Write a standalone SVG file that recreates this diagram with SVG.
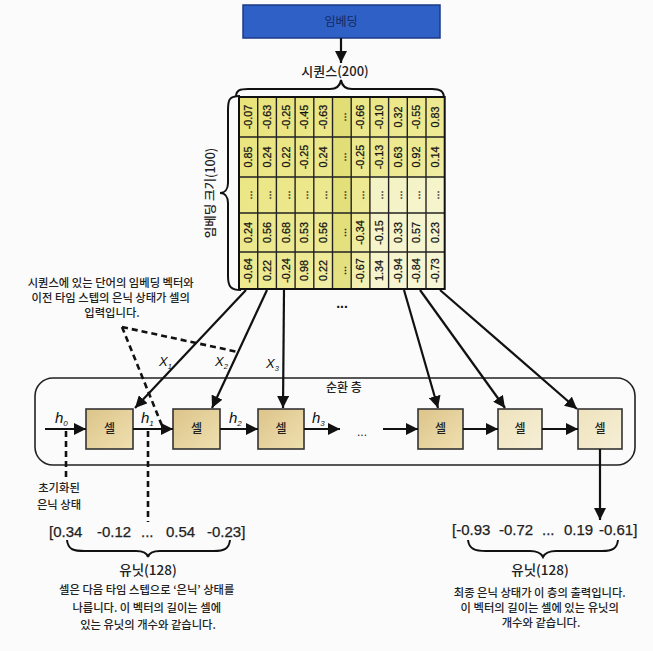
<svg xmlns="http://www.w3.org/2000/svg" width="653" height="651" viewBox="0 0 653 651">
<style>
.kr{font-family:"Noto Sans CJK KR","Noto Sans",sans-serif;fill:#222;font-weight:500}
.num{font-family:"Liberation Sans",Arial,sans-serif;fill:#111;font-size:10.8px;stroke:#111;stroke-width:0.25}
.big{font-family:"Liberation Sans",Arial,sans-serif;fill:#222;font-size:15px;stroke:#222;stroke-width:0.25}
.ln{stroke:#111;stroke-width:2.2;fill:none}
.dash{stroke:#111;stroke-width:2.6;fill:none;stroke-dasharray:6 4}
.cell rect{stroke:#333;stroke-width:1.6}
.brace{stroke:#111;stroke-width:2;fill:none}
</style>
<defs>
<marker id="ah" viewBox="0 0 10 10" refX="10" refY="5" markerWidth="12" markerHeight="12" markerUnits="userSpaceOnUse" orient="auto"><path d="M0,0 L10,5 L0,10 z" fill="#111"/></marker>
<linearGradient id="tan" x1="0" y1="0" x2="1" y2="1"><stop offset="0" stop-color="#dcc48a"/><stop offset="1" stop-color="#efe0b0"/></linearGradient>
<linearGradient id="tanl" x1="0" y1="0" x2="1" y2="1"><stop offset="0" stop-color="#efe3bd"/><stop offset="1" stop-color="#f6efd6"/></linearGradient>
<linearGradient id="yel" x1="0" y1="0" x2="1" y2="1"><stop offset="0" stop-color="#e9e37a"/><stop offset="0.6" stop-color="#eeea95"/><stop offset="1" stop-color="#f6f5d2"/></linearGradient>
</defs>
<rect width="653" height="651" fill="#fbfbfb"/>

<g id="embedding">
<rect x="243" y="5" width="197" height="33" fill="#2f60c6" stroke="#1c3a86" stroke-width="1.5"/>
<text x="341" y="26" text-anchor="middle" font-size="12" font-family="Noto Sans CJK KR, sans-serif" fill="#13285e">임베딩</text>
</g>

<g id="sequence-label">
<text class="kr" x="335" y="76" text-anchor="middle" font-size="13">시퀀스(200)</text>
<path class="brace" d="M236,97 C236,90 240,89 248,89 L330,89 C336,89 340,86 341,80 C342,86 346,89 352,89 L432,89 C440,89 444,91 444,98"/>
<path class="brace" d="M240,96 C229,96 228,100 228,110 L228,183 C228,189 225,193 220,193 C225,193 228,197 228,203 L228,276 C228,287 231,290 241,290"/>
<text class="kr" transform="translate(209,193) rotate(-90)" text-anchor="middle" dominant-baseline="central" font-size="12.5">임베딩 크기(100)</text>
</g>

<g id="grid">
<rect x="239" y="97" width="205.7" height="192" fill="url(#yel)"/>
<rect x="332.5" y="97" width="18.7" height="192" fill="#dcd86a" opacity="0.6"/>
<rect x="369.9" y="177" width="74.8" height="112" fill="#f7f6da" opacity="0.7"/>
<path d="M257.7,97V289M276.4,97V289M295.1,97V289M313.8,97V289M332.5,97V289M351.2,97V289M369.9,97V289M388.6,97V289M407.3,97V289M426,97V289M239,137H444.7M239,177H444.7M239,213H444.7M239,252H444.7" stroke="#222" stroke-width="1.4" fill="none"/>
<rect x="239" y="97" width="205.7" height="192" fill="none" stroke="#111" stroke-width="2"/>
<g class="num" text-anchor="middle">
<text transform="translate(248.35,117) rotate(-90)" dy="3.8">-0.07</text>
<text transform="translate(267.05,117) rotate(-90)" dy="3.8">-0.63</text>
<text transform="translate(285.75,117) rotate(-90)" dy="3.8">-0.25</text>
<text transform="translate(304.45,117) rotate(-90)" dy="3.8">-0.45</text>
<text transform="translate(323.15,117) rotate(-90)" dy="3.8">-0.63</text>
<text transform="translate(341.85,117) rotate(-90)" dy="3.8">...</text>
<text transform="translate(360.55,117) rotate(-90)" dy="3.8">-0.66</text>
<text transform="translate(379.25,117) rotate(-90)" dy="3.8">-0.10</text>
<text transform="translate(397.95,117) rotate(-90)" dy="3.8">0.32</text>
<text transform="translate(416.65,117) rotate(-90)" dy="3.8">-0.55</text>
<text transform="translate(435.35,117) rotate(-90)" dy="3.8">0.83</text>
<text transform="translate(248.35,157) rotate(-90)" dy="3.8">0.85</text>
<text transform="translate(267.05,157) rotate(-90)" dy="3.8">0.24</text>
<text transform="translate(285.75,157) rotate(-90)" dy="3.8">0.22</text>
<text transform="translate(304.45,157) rotate(-90)" dy="3.8">-0.25</text>
<text transform="translate(323.15,157) rotate(-90)" dy="3.8">0.24</text>
<text transform="translate(341.85,157) rotate(-90)" dy="3.8">...</text>
<text transform="translate(360.55,157) rotate(-90)" dy="3.8">-0.25</text>
<text transform="translate(379.25,157) rotate(-90)" dy="3.8">-0.13</text>
<text transform="translate(397.95,157) rotate(-90)" dy="3.8">0.63</text>
<text transform="translate(416.65,157) rotate(-90)" dy="3.8">0.92</text>
<text transform="translate(435.35,157) rotate(-90)" dy="3.8">0.14</text>
<text transform="translate(248.35,195) rotate(-90)" dy="3.8">...</text>
<text transform="translate(267.05,195) rotate(-90)" dy="3.8">...</text>
<text transform="translate(285.75,195) rotate(-90)" dy="3.8">...</text>
<text transform="translate(304.45,195) rotate(-90)" dy="3.8">...</text>
<text transform="translate(323.15,195) rotate(-90)" dy="3.8">...</text>
<text transform="translate(341.85,195) rotate(-90)" dy="3.8">...</text>
<text transform="translate(360.55,195) rotate(-90)" dy="3.8">...</text>
<text transform="translate(379.25,195) rotate(-90)" dy="3.8">...</text>
<text transform="translate(397.95,195) rotate(-90)" dy="3.8">...</text>
<text transform="translate(416.65,195) rotate(-90)" dy="3.8">...</text>
<text transform="translate(435.35,195) rotate(-90)" dy="3.8">...</text>
<text transform="translate(248.35,232.5) rotate(-90)" dy="3.8">0.24</text>
<text transform="translate(267.05,232.5) rotate(-90)" dy="3.8">0.56</text>
<text transform="translate(285.75,232.5) rotate(-90)" dy="3.8">0.68</text>
<text transform="translate(304.45,232.5) rotate(-90)" dy="3.8">0.53</text>
<text transform="translate(323.15,232.5) rotate(-90)" dy="3.8">0.56</text>
<text transform="translate(341.85,232.5) rotate(-90)" dy="3.8">...</text>
<text transform="translate(360.55,232.5) rotate(-90)" dy="3.8">-0.34</text>
<text transform="translate(379.25,232.5) rotate(-90)" dy="3.8">-0.15</text>
<text transform="translate(397.95,232.5) rotate(-90)" dy="3.8">0.33</text>
<text transform="translate(416.65,232.5) rotate(-90)" dy="3.8">0.57</text>
<text transform="translate(435.35,232.5) rotate(-90)" dy="3.8">0.23</text>
<text transform="translate(248.35,270.5) rotate(-90)" dy="3.8">-0.64</text>
<text transform="translate(267.05,270.5) rotate(-90)" dy="3.8">0.22</text>
<text transform="translate(285.75,270.5) rotate(-90)" dy="3.8">-0.24</text>
<text transform="translate(304.45,270.5) rotate(-90)" dy="3.8">0.98</text>
<text transform="translate(323.15,270.5) rotate(-90)" dy="3.8">0.22</text>
<text transform="translate(341.85,270.5) rotate(-90)" dy="3.8">...</text>
<text transform="translate(360.55,270.5) rotate(-90)" dy="3.8">-0.67</text>
<text transform="translate(379.25,270.5) rotate(-90)" dy="3.8">1.34</text>
<text transform="translate(397.95,270.5) rotate(-90)" dy="3.8">-0.94</text>
<text transform="translate(416.65,270.5) rotate(-90)" dy="3.8">-0.84</text>
<text transform="translate(435.35,270.5) rotate(-90)" dy="3.8">-0.73</text>
</g>
<text x="342" y="308" text-anchor="middle" font-family="Liberation Sans, sans-serif" font-size="14" font-weight="bold" fill="#111">...</text>
</g>

<g id="annotation-input">
<text class="kr" font-size="11.3" text-anchor="middle">
<tspan x="112" y="287">시퀀스에 있는 단어의 임베딩 벡터와</tspan>
<tspan x="112" y="302">이전 타임 스텝의 은닉 상태가 셀의</tspan>
<tspan x="112" y="317">입력입니다.</tspan>
</text>
</g>

<g id="recurrent-layer">
<rect x="35" y="378" width="600" height="87" rx="18" fill="none" stroke="#222" stroke-width="1.6"/>
<text class="kr" x="344" y="392" text-anchor="middle" font-size="12">순환 층</text>
</g>

<g id="cell1" class="cell"><rect x="86" y="409" width="47" height="40" fill="url(#tan)"/><text class="kr" x="109.5" y="433" text-anchor="middle" font-size="12">셀</text></g>
<g id="cell2" class="cell"><rect x="173" y="409" width="47" height="40" fill="url(#tan)"/><text class="kr" x="196.5" y="433" text-anchor="middle" font-size="12">셀</text></g>
<g id="cell3" class="cell"><rect x="258" y="409" width="46" height="40" fill="url(#tan)"/><text class="kr" x="281" y="433" text-anchor="middle" font-size="12">셀</text></g>
<g id="cell4" class="cell"><rect x="418" y="409" width="45" height="40" fill="url(#tan)"/><text class="kr" x="440.5" y="433" text-anchor="middle" font-size="12">셀</text></g>
<g id="cell5" class="cell"><rect x="498" y="409" width="44" height="40" fill="url(#tanl)"/><text class="kr" x="520" y="433" text-anchor="middle" font-size="12">셀</text></g>
<g id="cell6" class="cell"><rect x="578" y="409" width="44" height="40" fill="url(#tanl)"/><text class="kr" x="600" y="433" text-anchor="middle" font-size="12">셀</text></g>

<g id="connectors">
<line class="ln" x1="341" y1="38" x2="341" y2="63" marker-end="url(#ah)"/>
<line class="ln" x1="246" y1="290" x2="135" y2="408" marker-end="url(#ah)"/>
<line class="ln" x1="267" y1="290" x2="212" y2="408" marker-end="url(#ah)"/>
<line class="ln" x1="284" y1="290" x2="283" y2="408" marker-end="url(#ah)"/>
<line class="ln" x1="404" y1="290" x2="438" y2="408" marker-end="url(#ah)"/>
<line class="ln" x1="420" y1="290" x2="505" y2="408" marker-end="url(#ah)"/>
<line class="ln" x1="440" y1="290" x2="577" y2="409" marker-end="url(#ah)"/>
<line class="ln" x1="45" y1="429" x2="86" y2="429" marker-end="url(#ah)"/>
<line class="ln" x1="133" y1="429" x2="173" y2="429" marker-end="url(#ah)"/>
<line class="ln" x1="220" y1="429" x2="258" y2="429" marker-end="url(#ah)"/>
<line class="ln" x1="304" y1="429" x2="340" y2="429" marker-end="url(#ah)"/>
<line class="ln" x1="383" y1="429" x2="418" y2="429" marker-end="url(#ah)"/>
<line class="ln" x1="463" y1="429" x2="498" y2="429" marker-end="url(#ah)"/>
<line class="ln" x1="542" y1="429" x2="578" y2="429" marker-end="url(#ah)"/>
<line class="ln" x1="600" y1="449" x2="600" y2="520" marker-end="url(#ah)"/>
<line class="dash" x1="66" y1="431" x2="66" y2="477"/>
<line class="dash" x1="148" y1="431" x2="148" y2="522"/>
<line class="dash" x1="122" y1="327" x2="238" y2="352"/>
<line class="dash" x1="122" y1="327" x2="163" y2="428"/>
</g>

<g id="labels" font-family="Liberation Sans, sans-serif" font-style="italic" fill="#111">
<text x="159" y="366" font-size="13">X<tspan font-size="7.5" dy="3">1</tspan></text>
<text x="215" y="366" font-size="13">X<tspan font-size="7.5" dy="3">2</tspan></text>
<text x="266" y="368" font-size="13">X<tspan font-size="7.5" dy="3">3</tspan></text>
<text x="55" y="423" font-size="15">h<tspan font-size="8" dy="3">0</tspan></text>
<text x="141" y="423" font-size="15">h<tspan font-size="8" dy="3">1</tspan></text>
<text x="229" y="423" font-size="15">h<tspan font-size="8" dy="3">2</tspan></text>
<text x="312" y="423" font-size="15">h<tspan font-size="8" dy="3">3</tspan></text>
</g>
<text x="362" y="436" text-anchor="middle" font-family="Liberation Sans, sans-serif" font-size="12" fill="#222">...</text>

<g id="init-state">
<text class="kr" font-size="11.3" text-anchor="middle"><tspan x="59" y="492">초기화된</tspan><tspan x="59" y="509">은닉 상태</tspan></text>
</g>

<g id="hidden-vector">
<text class="big" y="537"><tspan x="49">[0.34</tspan><tspan x="97">-0.12</tspan><tspan x="141">...</tspan><tspan x="166">0.54</tspan><tspan x="207">-0.23]</tspan></text>
<path class="brace" d="M67,540 C68,550 74,551 85,551 L136,551 C143,551 147,553 148,557 C149,553 153,551 160,551 L214,551 C224,551 229,549 230,540"/>
<text class="kr" x="148" y="575" text-anchor="middle" font-size="13.5">유닛(128)</text>
<text class="kr" font-size="11.3" text-anchor="middle">
<tspan x="148" y="594">셀은 다음 타임 스텝으로 ‘은닉’ 상태를</tspan>
<tspan x="148" y="612">나릅니다. 이 벡터의 길이는 셀에</tspan>
<tspan x="148" y="629">있는 유닛의 개수와 같습니다.</tspan>
</text>
</g>

<g id="output-vector">
<text class="big" y="535"><tspan x="452">[-0.93</tspan><tspan x="499">-0.72</tspan><tspan x="542">...</tspan><tspan x="564">0.19</tspan><tspan x="599">-0.61]</tspan></text>
<path class="brace" d="M468,540 C469,549 475,551 486,551 L530,551 C537,551 541,553 543,557 C545,553 549,551 556,551 L602,551 C612,551 617,549 618,540"/>
<text class="kr" x="540" y="575" text-anchor="middle" font-size="13.5">유닛(128)</text>
<text class="kr" font-size="11.3" text-anchor="middle">
<tspan x="541" y="597">최종 은닉 상태가 이 층의 출력입니다.</tspan>
<tspan x="541" y="612">이 벡터의 길이는 셀에 있는 유닛의</tspan>
<tspan x="541" y="627">개수와 같습니다.</tspan>
</text>
</g>
</svg>
